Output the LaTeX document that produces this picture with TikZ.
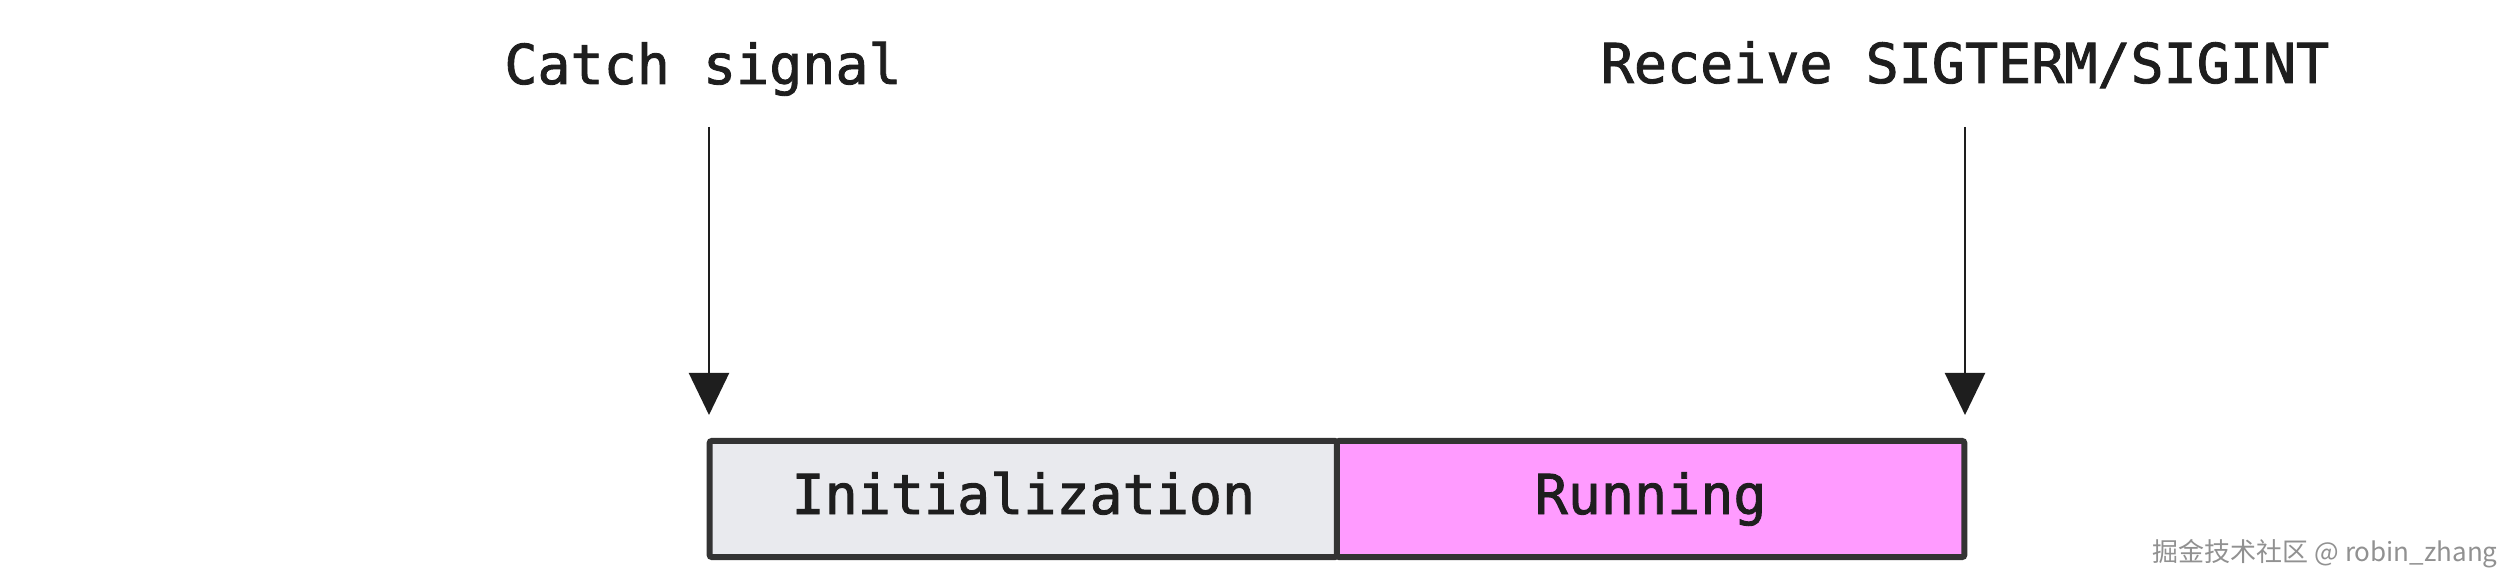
\documentclass[tikz,border=0pt]{standalone}
\usepackage{fontspec}
\usetikzlibrary{arrows.meta}
\newfontfamily\monof[FakeBold=1.6]{DejaVu Sans Mono}
\newfontfamily\cjk{Noto Sans CJK SC}
\definecolor{inkc}{RGB}{30,30,30}
\definecolor{borderc}{RGB}{51,51,51}
\definecolor{initfill}{RGB}{233,234,238}
\definecolor{runfill}{RGB}{255,155,255}
\definecolor{wmc}{RGB}{145,145,145}
\tikzset{
  lbl/.style={inner sep=0pt, anchor=base, text=inkc, font=\monof\fontsize{27.5}{33}\selectfont},
  phase/.style={draw=borderc, line width=3pt, rounded corners=1pt, inner sep=0pt,
    minimum width=313.65pt, minimum height=58pt, text height=15pt, text depth=0pt,
    text=inkc, font=\monof\fontsize{27.5}{33}\selectfont},
  sigarrow/.style={draw=inkc, line width=1.1pt, -{Triangle[length=21pt,width=20pt]}},
  wm/.style={inner sep=0pt, anchor=base east, text=wmc, font=\cjk\fontsize{13}{15}\selectfont}
}
\begin{document}
\begin{tikzpicture}[x={(0.5pt,0)}, y={(0,-0.5pt)}]
\useasboundingbox (0,0) rectangle (2516,587);
\fill[white] (0,0) rectangle (2516,587);
% labels
\node[lbl] (catch) at (703,84) {Catch signal};
\node[lbl] (recv) at (1965,83) {Receive SIGTERM/SIGINT};
% phases
\node[phase, fill=initfill] (init) at (1023.35,499) {Initialization};
\node[phase, fill=runfill] (run) at (1650.6,499) {Running};
% arrows
\coordinate (c1s) at (709,127);
\coordinate (c1e) at (709,415);
\coordinate (c2s) at (1965,127);
\coordinate (c2e) at (1965,415);
\draw[sigarrow] (c1s) -- (c1e);
\draw[sigarrow] (c2s) -- (c2e);
% watermark
\node[wm] (wmk) at (2498,561) {掘金技术社区 @ robin\_zhang};
\end{tikzpicture}
\end{document}
